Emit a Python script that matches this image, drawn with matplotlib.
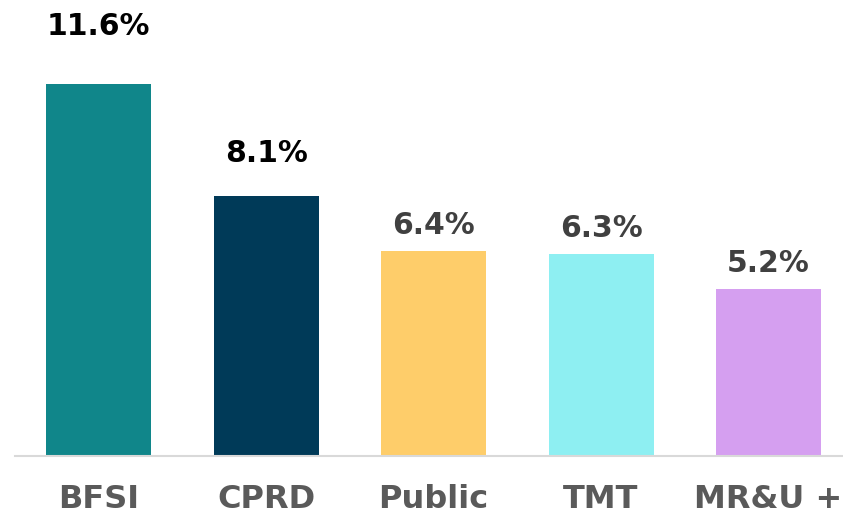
import matplotlib.pyplot as plt

categories = ['BFSI', 'CPRD', 'Public', 'TMT', 'MR&U +']
values = [11.6, 8.1, 6.4, 6.3, 5.2]
labels = ['11.6%', '8.1%', '6.4%', '6.3%', '5.2%']
bar_colors = ['#10868a', '#003a58', '#fecd6a', '#8eeff2', '#d59ff0']
label_colors = ['#000000', '#000000', '#404040', '#404040', '#404040']
label_offsets = [35, 24.5, 12.3, 12.3, 12.3]  # points above bar top

fig = plt.figure(figsize=(8.43, 5.15), dpi=100)
ax = fig.add_axes([15 / 843, 59 / 515, 1 - 15 / 843, 456 / 515])

x = range(len(categories))
ax.bar(x, values, width=0.627, color=bar_colors)

for i, v in enumerate(values):
    ax.annotate(labels[i], (i, v), xytext=(0, label_offsets[i]), textcoords='offset points',
                ha='center', va='baseline', fontsize=21.5, fontweight='bold',
                color=label_colors[i], annotation_clip=False)

ax.set_xlim(-0.5, 4.445)
ax.set_ylim(0, 14.22)
ax.set_xticks(list(x))
ax.set_xticklabels(categories, fontsize=23, fontweight='bold', color='#5a5a5a')
ax.tick_params(axis='x', length=0, pad=20)
ax.set_yticks([])
for side in ['top', 'right', 'left']:
    ax.spines[side].set_visible(False)
ax.spines['bottom'].set_color('#d9d9d9')
ax.spines['bottom'].set_linewidth(1.5)

fig.savefig('out.png', dpi=100)
